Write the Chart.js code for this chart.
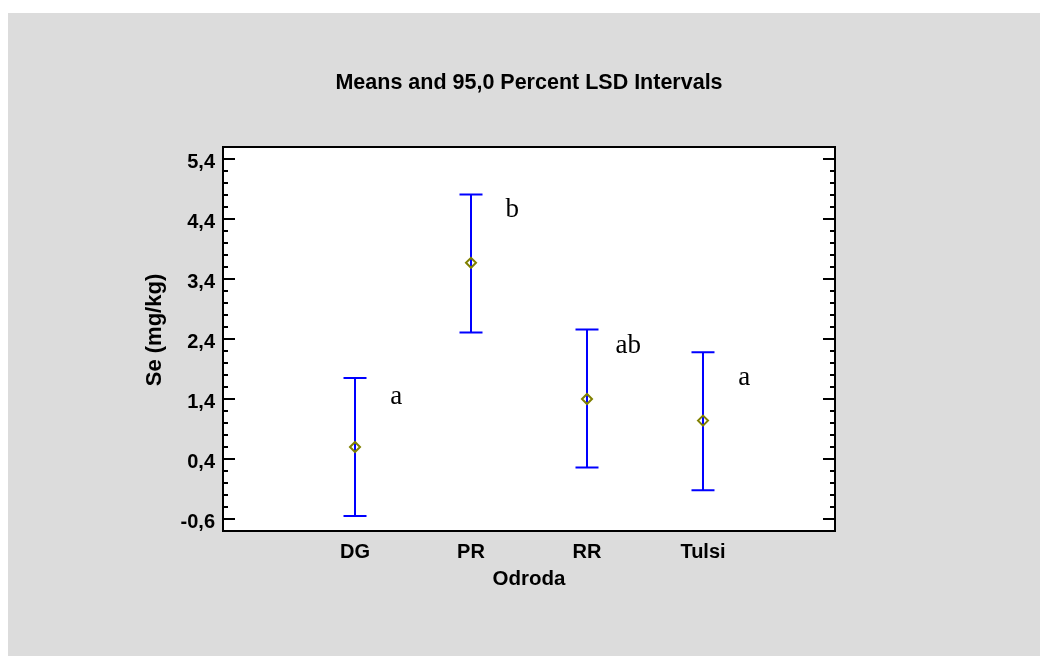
<!DOCTYPE html>
<html lang="en">
<head>
<meta charset="UTF-8">
<title>Means and 95,0 Percent LSD Intervals</title>
<script src="https://cdn.jsdelivr.net/npm/chart.js"></script>
<style>
  html, body { margin: 0; padding: 0; background: #ffffff; }
  #wrap { position: absolute; left: 8px; top: 13px; width: 1032px; height: 643px; background: #dcdcdc; }
</style>
</head>
<body>
<div id="wrap"><canvas id="lsd-chart" width="1032" height="643"></canvas></div>
<script>
// data
const categories = ['DG', 'PR', 'RR', 'Tulsi'];
const means = [0.60, 3.67, 1.40, 1.04];
const upper = [1.75, 4.81, 2.56, 2.18];
const lower = [-0.55, 2.51, 0.26, -0.12];
const letters = ['a', 'b', 'ab', 'a'];
const letterY = [1.32, 4.43, 2.17, 1.63];
const yMajor = [-0.6, 0.4, 1.4, 2.4, 3.4, 4.4, 5.4];
const yMin = -0.8, yMax = 5.6, yMinorStep = 0.2;

const titleText = 'Means and 95,0 Percent LSD Intervals';
const xTitle = 'Odroda';
const yTitle = 'Se (mg/kg)';

const sansFamily = '"Liberation Sans", Arial, sans-serif';

// plot frame, error bars, inward ticks, group letters and titles
const lsdPlugin = {
    id: 'lsd',
    beforeDraw(chart) {
        const { ctx, chartArea: a } = chart;
        ctx.save();
        ctx.fillStyle = '#ffffff';
        ctx.fillRect(a.left, a.top, a.right - a.left, a.bottom - a.top);
        ctx.restore();
    },
    beforeDatasetsDraw(chart) {
        const { ctx, scales: { x, y } } = chart;
        ctx.save();
        ctx.strokeStyle = '#0000ff';
        ctx.lineWidth = 2;
        categories.forEach((c, i) => {
            const px = x.getPixelForValue(i);
            const top = y.getPixelForValue(upper[i]);
            const bot = y.getPixelForValue(lower[i]);
            ctx.beginPath();
            ctx.moveTo(px, top); ctx.lineTo(px, bot);
            ctx.moveTo(px - 11.5, top); ctx.lineTo(px + 11.5, top);
            ctx.moveTo(px - 11.5, bot); ctx.lineTo(px + 11.5, bot);
            ctx.stroke();
        });
        ctx.restore();
    },
    afterDraw(chart) {
        const { ctx, chartArea: a, scales: { x, y } } = chart;
        ctx.save();

        // frame
        ctx.strokeStyle = '#000000';
        ctx.lineWidth = 2;
        ctx.strokeRect(a.left, a.top, a.right - a.left, a.bottom - a.top);

        // inward ticks on left and right
        ctx.beginPath();
        y.ticks.forEach(t => {
            const py = Math.round(y.getPixelForValue(t.value));
            const len = t.label ? 12 : 5;
            ctx.moveTo(a.left, py); ctx.lineTo(a.left + len, py);
            ctx.moveTo(a.right, py); ctx.lineTo(a.right - len, py);
        });
        ctx.stroke();

        // group letters
        ctx.fillStyle = '#000000';
        ctx.font = '27px "Liberation Serif", "Times New Roman", serif';
        ctx.textAlign = 'center';
        ctx.textBaseline = 'alphabetic';
        letters.forEach((l, i) => {
            ctx.fillText(l, x.getPixelForValue(i + 0.355), y.getPixelForValue(letterY[i]));
        });

        // titles
        const cx = (a.left + a.right) / 2;
        ctx.textBaseline = 'middle';
        ctx.font = 'bold 21.5px ' + sansFamily;
        ctx.fillText(titleText, cx, 70);
        ctx.font = 'bold 20.5px ' + sansFamily;
        ctx.fillText(xTitle, cx, 566);
        ctx.translate(147, 317);
        ctx.rotate(-Math.PI / 2);
        ctx.font = 'bold 22px ' + sansFamily;
        ctx.fillText(yTitle, 0, 0);
        ctx.restore();
    }
};

new Chart(document.getElementById('lsd-chart'), {
    type: 'scatter',
    data: {
        datasets: [{
            label: 'Mean',
            data: means.map((m, i) => ({ x: i, y: m })),
            pointStyle: 'rectRot',
            pointRadius: 5,
            pointHoverRadius: 5,
            borderWidth: 2,
            borderColor: '#808000',
            backgroundColor: 'rgba(0,0,0,0)'
        }]
    },
    options: {
        responsive: false,
        animation: false,
        layout: { padding: { top: 134, right: 205, bottom: 0, left: 0 } },
        plugins: {
            legend: { display: false },
            tooltip: { enabled: false }
        },
        scales: {
            x: {
                type: 'linear',
                min: -1.138,
                max: 4.138,
                afterBuildTicks: s => { s.ticks = categories.map((c, i) => ({ value: i })); },
                afterFit: s => { s.height = 125; },
                grid: { display: false, drawTicks: false },
                border: { display: false },
                ticks: {
                    padding: 9,
                    autoSkip: false,
                    color: '#000000',
                    font: { family: sansFamily, size: 20, weight: 'bold' },
                    callback: v => categories[v] ?? ''
                }
            },
            y: {
                min: yMin,
                max: yMax,
                afterBuildTicks: s => {
                    const n = Math.round((yMax - yMin) / yMinorStep);
                    const t = [];
                    for (let k = 1; k < n; k++) t.push({ value: Math.round((yMin + k * yMinorStep) * 10) / 10 });
                    s.ticks = t;
                },
                afterFit: s => { s.width = 215; },
                grid: { display: false, drawTicks: false },
                border: { display: false },
                ticks: {
                    padding: 8,
                    labelOffset: 3,
                    autoSkip: false,
                    color: '#000000',
                    font: { family: sansFamily, size: 20, weight: 'bold' },
                    callback: v => yMajor.some(m => Math.abs(m - v) < 1e-6) ? v.toFixed(1).replace('.', ',') : ''
                }
            }
        }
    },
    plugins: [lsdPlugin]
});
</script>
</body>
</html>
